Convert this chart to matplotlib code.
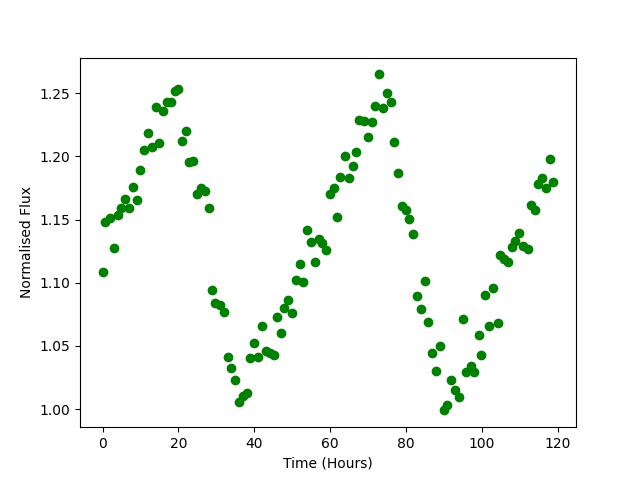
import matplotlib
matplotlib.use('Agg')
import matplotlib.pyplot as plt

# light curve values
time = [0.0, 0.71, 1.95, 2.90, 4.06, 4.86, 5.92, 6.87, 7.92, 9.09,
        9.77, 10.83, 11.89, 12.95, 14.0, 14.9, 15.95, 16.9, 17.95, 19.01,
        19.91, 20.86, 21.91, 22.89, 23.87, 24.82, 25.88, 26.93, 27.99, 28.84,
        29.76, 30.9, 31.95, 33.11, 33.8, 34.85, 35.91, 36.97, 38.03, 38.74,
        39.87, 40.93, 41.98, 42.96, 44.02, 45.07, 45.95, 47.0, 47.8, 48.85,
        49.91, 50.89, 51.94, 52.92, 53.79, 54.85, 55.98, 56.96, 57.83, 58.89,
        60.0, 61.05, 61.71, 62.7, 63.9, 64.97, 66.0, 66.8, 67.6, 68.77,
        69.98, 71.04, 71.75, 72.89, 73.94, 75.0, 76.05, 76.85, 77.9, 78.88,
        79.93, 80.8, 81.86, 82.92, 83.97, 85.03, 85.8, 86.88, 87.93, 88.99,
        89.89, 90.84, 91.9, 92.87, 93.8, 95.07, 95.78, 97.02, 97.97, 99.13,
        99.82, 100.8, 101.92, 102.98, 104.14, 104.75, 105.8, 106.94, 108.0, 108.79,
        109.84, 110.9, 112.06, 113.02, 114.07, 114.78, 115.91, 116.97, 118.03, 118.82]

flux = [1.1084, 1.1479, 1.1513, 1.1274, 1.1535, 1.1595, 1.1664, 1.1593, 1.1756, 1.1653,
        1.1891, 1.2049, 1.2184, 1.2073, 1.2389, 1.2107, 1.2362, 1.2434, 1.2434, 1.2521,
        1.2532, 1.2120, 1.2199, 1.1954, 1.1962, 1.1701, 1.1748, 1.1725, 1.1593, 1.0941,
        1.0839, 1.0820, 1.0767, 1.0414, 1.0324, 1.0229, 1.0055, 1.0103, 1.0129, 1.0403,
        1.0522, 1.0411, 1.0657, 1.0461, 1.0443, 1.0424, 1.0728, 1.0601, 1.0799, 1.0865,
        1.0759, 1.1023, 1.1147, 1.1002, 1.1416, 1.1326, 1.1163, 1.1347, 1.1313, 1.1258,
        1.1699, 1.1748, 1.1520, 1.1835, 1.2002, 1.1828, 1.1922, 1.2033, 1.2289, 1.2278,
        1.2152, 1.2273, 1.2397, 1.2650, 1.2381, 1.2500, 1.2429, 1.2112, 1.1867, 1.1608,
        1.1577, 1.1508, 1.1384, 1.0894, 1.0791, 1.1013, 1.0688, 1.0443, 1.0301, 1.0498,
        0.9989, 1.0034, 1.0226, 1.0147, 1.0095, 1.0712, 1.0293, 1.0337, 1.0290, 1.0585,
        1.0427, 1.0902, 1.0657, 1.0957, 1.0680, 1.1221, 1.1191, 1.1165, 1.1282, 1.1332,
        1.1395, 1.1292, 1.1271, 1.1616, 1.1574, 1.1782, 1.1832, 1.1751, 1.1978, 1.1796]

plt.figure(figsize=(6.4, 4.8), dpi=100)
plt.plot(time, flux, 'go')
plt.xlabel('Time (Hours)')
plt.ylabel('Normalised Flux')
plt.savefig('out.png')
